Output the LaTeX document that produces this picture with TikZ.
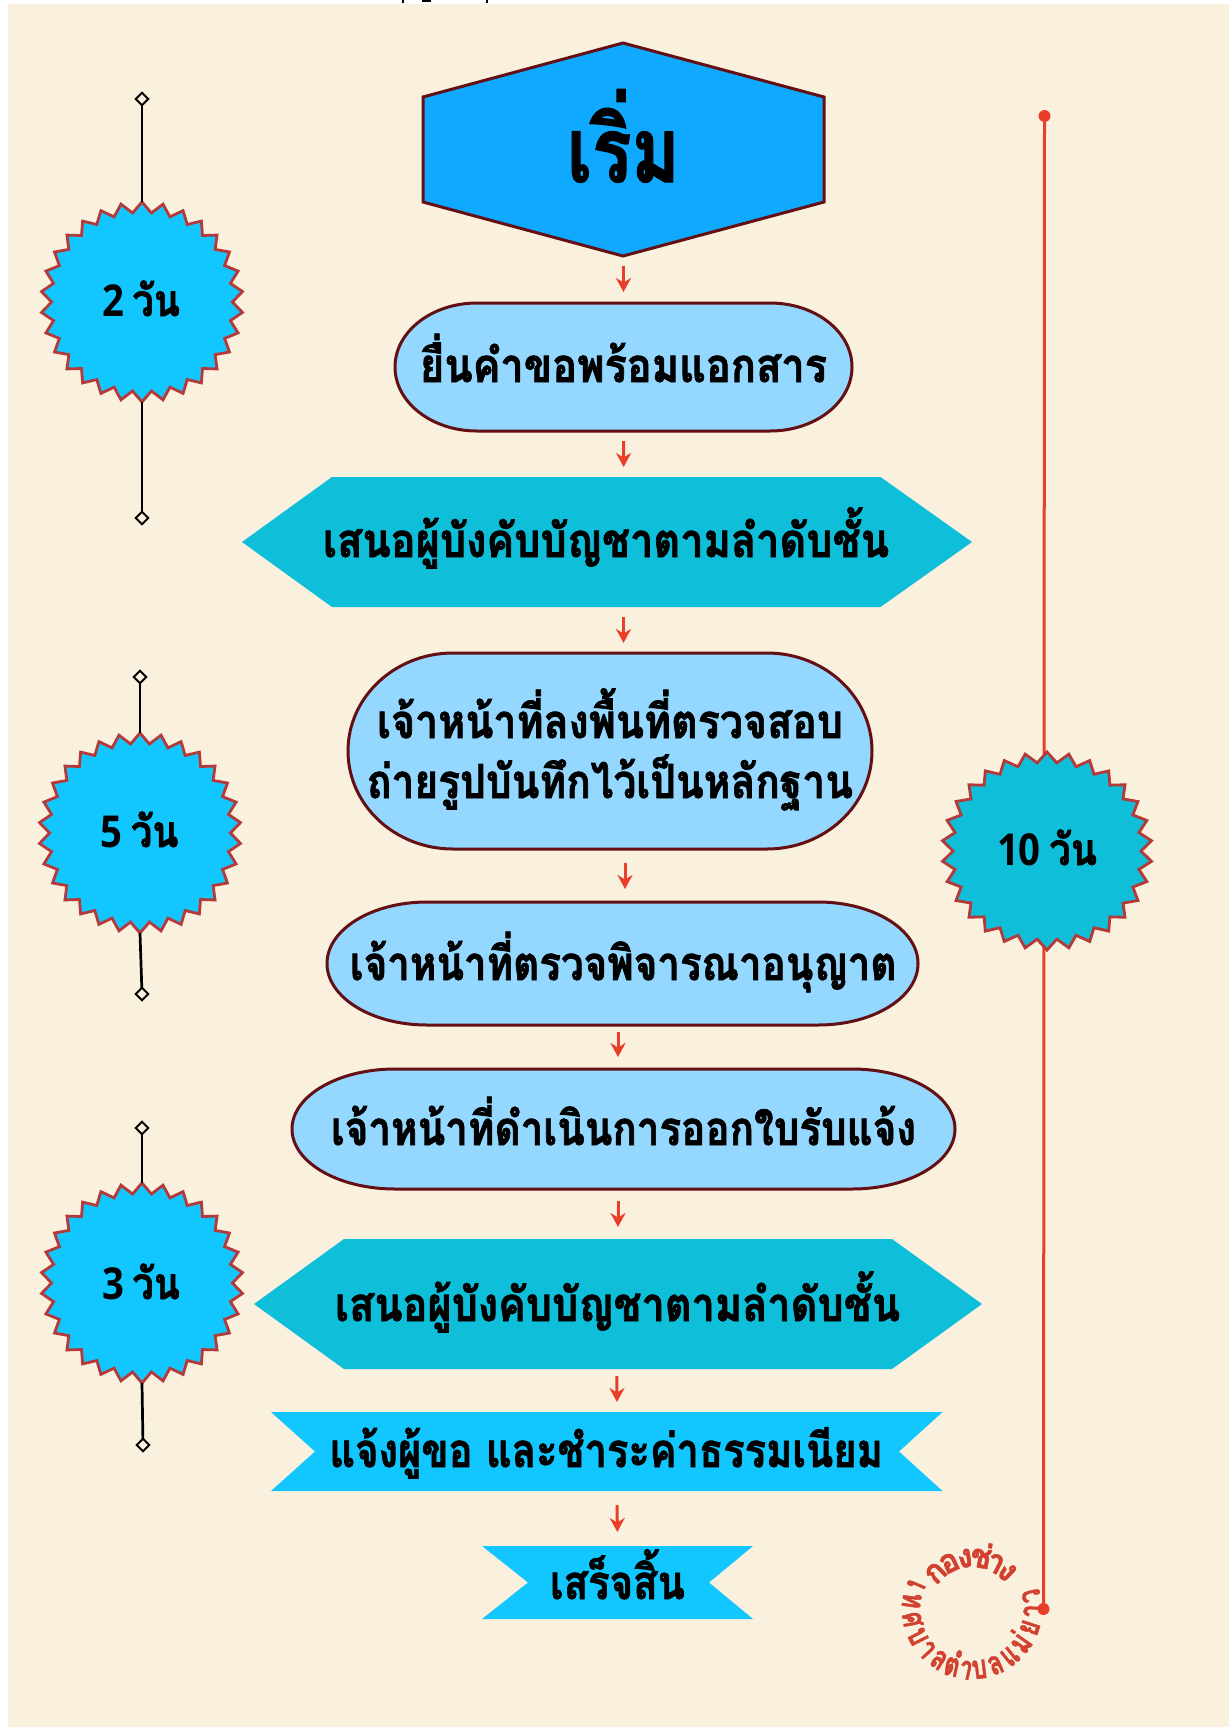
\documentclass[tikz,border=0pt]{standalone}
\usepackage{fontspec}
\usetikzlibrary{arrows.meta,shapes.geometric}
\newfontfamily\thaifont[Script=Thai,BoldFeatures={FakeBold=1.6}]{Loma}
\newfontfamily\latfont{Open Sans}
\definecolor{paper}{RGB}{249,240,222}
\definecolor{hexblue}{RGB}{15,170,255}
\definecolor{pale}{RGB}{148,215,255}
\definecolor{teal}{RGB}{15,190,216}
\definecolor{sky}{RGB}{18,199,255}
\definecolor{maroon}{RGB}{100,15,20}
\definecolor{brick}{RGB}{180,58,58}
\definecolor{redl}{RGB}{232,62,42}
\definecolor{ringred}{RGB}{210,65,47}
\newsavebox\fitbox
\newlength\fitlen
% width-fitted text: target width, text
\newcommand\fw[2]{\sbox\fitbox{#2}\setlength\fitlen{\wd\fitbox}\pgfmathsetmacro\fitr{#1/\fitlen}\scalebox{\fitr}[1]{\usebox\fitbox}}
% invisible frame node carrying the name and bounds of a drawn shape
\newcommand\bx[5]{\node[frame,minimum width={(#4)-(#2)},minimum height={(#5)-(#3)}] (#1) at ({((#2)+(#4))/2},{((#3)+(#5))/2}) {};}
% text: name, centre x, baseline y, width, size, text
\newcommand\lbl[6]{\node[txt] (#1) at (#2,#3) {\fontsize{#5}{#5}\selectfont\fw{#4}{#6}};}
% stadium: name x1 y1 x2 y2 rx
\newcommand\stad[6]{%
 \path[stadstyle] ({#2+#6},#3) -- ({#4-#6},#3)
  .. controls ({#4-0.4477*#6},#3) and (#4,{#3+0.2239*(#5-#3)}) .. (#4,{(#3+#5)/2})
  .. controls (#4,{#5-0.2239*(#5-#3)}) and ({#4-0.4477*#6},#5) .. ({#4-#6},#5)
  -- ({#2+#6},#5)
  .. controls ({#2+0.4477*#6},#5) and (#2,{#5-0.2239*(#5-#3)}) .. (#2,{(#3+#5)/2})
  .. controls (#2,{#3+0.2239*(#5-#3)}) and ({#2+0.4477*#6},#3) .. ({#2+#6},#3) -- cycle;
 \bx{#1}{#2}{#3}{#4}{#5}}
% badge: name cx cy rx ry fill
\newcommand\badge[6]{%
 \path[badgestyle,fill=#6] (#2,{#3-#5})
  \foreach \i in {1,...,59} { -- ({#2+(#4-0.105*#4*mod(\i,2))*sin(\i*6)},{#3-(#5-0.105*#5*mod(\i,2))*cos(\i*6)}) } -- cycle;
 \bx{#1}{#2-#4}{#3-#5}{#2+#4}{#3+#5}}
\tikzset{
 x=1pt,y=-1pt,
 frame/.style={inner sep=0pt,outer sep=0pt,draw=none,fill=none},
 txt/.style={anchor=base,inner sep=0pt,outer sep=0pt,font=\thaifont\bfseries,text=black},
 stadstyle/.style={draw=maroon,fill=pale,line width=3pt},
 hexstyle/.style={draw=maroon,fill=hexblue,line width=3pt,line join=miter},
 tealstyle/.style={fill=teal},
 ribstyle/.style={fill=sky},
 badgestyle/.style={draw=brick,line width=2.8pt,line join=miter},
 arr/.style={draw=redl,line width=3pt,-{Stealth[length=14pt,width=15pt,inset=4.5pt]}},
 blk/.style={draw=black,line width=2.7pt},
 redline/.style={draw=redl,line width=3pt},
 dia/.style={shape=diamond,draw=black,fill=paper,line width=2pt,minimum size=12.5pt,inner sep=0pt,outer sep=0pt},
 dot/.style={shape=circle,fill=redl,minimum size=12pt,inner sep=0pt,outer sep=0pt},
 ring/.style={anchor=base,inner sep=0pt,outer sep=0pt,text=ringred,font=\thaifont\bfseries\fontsize{33}{33}\selectfont},
}
\begin{document}
\begin{tikzpicture}
\useasboundingbox (0,0) rectangle (1229,1727);
\fill[white] (0,0) rectangle (1229,1727);
\fill[paper] (7.5,4) rectangle (1229,1727);
\fill[black] (402,0) rectangle (404,3);
\fill[black] (422,0) rectangle (431,2);
\fill[black] (486,0) rectangle (488,3);
% red vertical line
\node[dot] (dtop) at (1044.5,116) {};
\node[dot] (dbot) at (1043.5,1609) {};
\draw[redline] (dtop) -- (dbot);
% start hexagon
\path[hexstyle] (623,43) -- (824,97) -- (824,202) -- (623,256) -- (423,202) -- (423,97) -- cycle;
\bx{hz}{423}{43}{824}{256}
\lbl{tz}{623.5}{182}{113}{90}{เริ่ม}
% steps
\stad{sa}{395}{303}{852}{431}{82}
\lbl{ta}{623.5}{382}{407}{47}{ยื่นคำขอพร้อมแอกสาร}
\path[tealstyle] (242,542) -- (332,477) -- (880.5,477) -- (972,542) -- (880.5,607) -- (332,607) -- cycle;
\bx{hb}{242}{477}{972}{607}
\lbl{tb}{606}{557}{566}{47}{เสนอผู้บังคับบัญชาตามลำดับชั้น}
\stad{sc}{348}{653}{872}{849}{105}
\lbl{tc}{610}{738}{466}{47}{เจ้าหน้าที่ลงพื้นที่ตรวจสอบ}
\lbl{td}{610}{798}{486}{47}{ถ่ายรูปบันทึกไว้เป็นหลักฐาน}
\stad{se}{327}{902}{918}{1025}{100}
\lbl{te}{623.2}{980}{546.5}{47}{เจ้าหน้าที่ตรวจพิจารณาอนุญาต}
\stad{sf}{292}{1069}{955}{1189}{103}
\lbl{tf}{623.5}{1145}{585}{47}{เจ้าหน้าที่ดำเนินการออกใบรับแจ้ง}
\path[tealstyle] (254,1304) -- (344,1239) -- (892,1239) -- (982,1304) -- (892,1369) -- (344,1369) -- cycle;
\bx{hg}{254}{1239}{982}{1369}
\lbl{tg}{617.5}{1321}{565}{47}{เสนอผู้บังคับบัญชาตามลำดับชั้น}
\path[ribstyle] (271,1412) -- (942.5,1412) -- (899,1451.5) -- (942.5,1491) -- (271,1491) -- (315,1451.5) -- cycle;
\bx{rh}{271}{1412}{942.5}{1491}
\lbl{th}{606.2}{1467}{553.5}{47}{แจ้งผู้ขอ และชำระค่าธรรมเนียม}
\path[ribstyle] (482,1546) -- (753,1546) -- (709,1582.5) -- (753,1619) -- (482,1619) -- (528,1582.5) -- cycle;
\bx{ri}{482}{1546}{753}{1619}
\lbl{ti}{617.5}{1599}{135}{47}{เสร็จสิ้น}
% arrows
\draw[arr,shorten <=10pt,shorten >=11pt] (hz.south) -- (sa.north);
\draw[arr,shorten <=10pt,shorten >=10pt] (sa.south) -- ([xshift=16.7pt]hb.north);
\draw[arr,shorten <=10pt,shorten >=10pt] ([xshift=16.5pt]hb.south) -- ([xshift=13.5pt]sc.north);
\draw[arr,shorten <=14pt,shorten >=13pt] ([xshift=15pt]sc.south) -- ([xshift=2.5pt]se.north);
\draw[arr,shorten <=7pt,shorten >=12pt] ([xshift=-4.5pt]se.south) -- ([xshift=-5.5pt]sf.north);
\draw[arr,shorten <=12pt,shorten >=12pt] ([xshift=-5.5pt]sf.south) -- (hg.north);
\draw[arr,shorten <=7pt,shorten >=10pt] ([xshift=-1pt]hg.south) -- ([xshift=10.2pt]rh.north);
\draw[arr,shorten <=14pt,shorten >=14pt] ([xshift=10.2pt]rh.south) -- (ri.north);
% badges
\node[dia] (ka) at (142,99) {};
\node[dia] (kb) at (142,518) {};
\node[dia] (kc) at (140,677) {};
\node[dia] (kd) at (142,994) {};
\node[dia] (ke) at (142,1128) {};
\node[dia] (kf) at (143,1445) {};
\badge{ba}{142}{302}{101}{100}{sky}
\badge{bb}{140}{833}{101}{100}{sky}
\badge{bc}{142}{1283}{101}{100}{sky}
\badge{bd}{1047}{851}{105}{99}{teal}
\draw[blk] (ka) -- (ba.north);
\draw[blk] (ba.south) -- (kb);
\draw[blk] (kc) -- (bb.north);
\draw[blk] (bb.south) -- (kd);
\draw[blk] (ke) -- (bc.north);
\draw[blk] (bc.south) -- (kf);
\lbl{la}{141}{316}{78}{44}{{\latfont\bfseries 2}\hspace{0.22em}วัน}
\lbl{lb}{139.5}{847}{78}{44}{{\latfont\bfseries 5}\hspace{0.22em}วัน}
\lbl{lc}{141}{1299}{78}{44}{{\latfont\bfseries 3}\hspace{0.22em}วัน}
\lbl{ld}{1047}{865}{100}{44}{{\latfont\bfseries 10}\hspace{0.22em}วัน}
% circular signature
\foreach \c/\a [count=\n] in {ก/135,อ/116,ง/98,ช่/80,า/63,ง/47}
  \node[ring,rotate=\a-90] (ru\n) at ({972+42*cos(\a)},{1609-42*sin(\a)}) {\scalebox{0.95}[1]{\c}};
\foreach \c/\a [count=\n] in {เ/157,ท/172,ศ/190,บ/207,า/222,ล/237,ตำ/257,บ/277,ล/293,แ/309,ม่/325,ย/342,า/358,ว/372.5}
  \node[ring,rotate=\a+90] (rl\n) at ({972+70*cos(\a)},{1609-70*sin(\a)}) {\scalebox{0.72}[1]{\c}};
\end{tikzpicture}
\end{document}
